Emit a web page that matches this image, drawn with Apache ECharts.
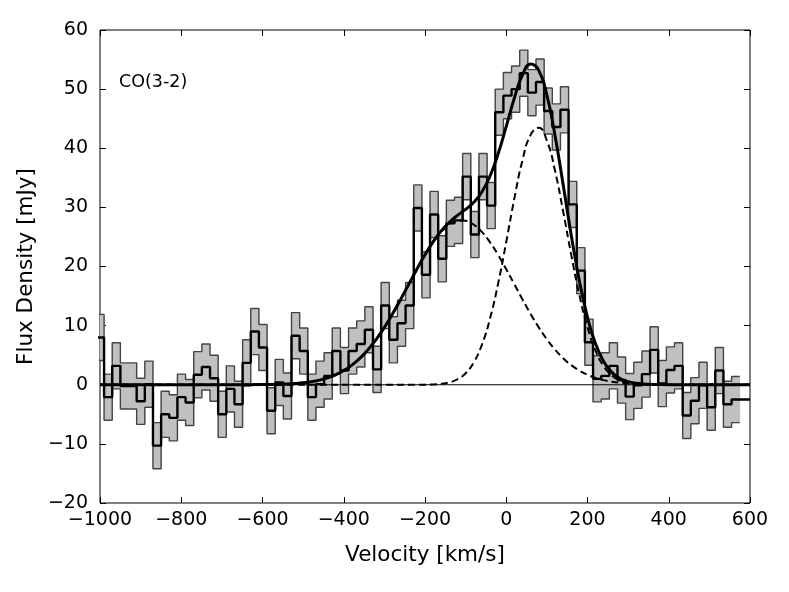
<!DOCTYPE html>
<html><head><meta charset="utf-8">
<script src="https://cdn.jsdelivr.net/npm/echarts@6/dist/echarts.min.js"></script>
<style>html,body{margin:0;padding:0;background:#fff}#c{width:789px;height:592px}</style>
</head><body><div id="c"></div><script>
// Channel centres (km/s)
const velocity = [-1000.0,-979.9,-959.9,-939.8,-919.8,-899.7,-879.6,-859.6,-839.5,-819.5,
 -799.4,-779.3,-759.3,-739.2,-719.2,-699.1,-679.0,-659.0,-638.9,-618.9,
 -598.8,-578.7,-558.7,-538.6,-518.6,-498.5,-478.4,-458.4,-438.3,-418.3,
 -398.2,-378.1,-358.1,-338.0,-318.0,-297.9,-277.8,-257.8,-237.7,-217.7,
 -197.6,-177.5,-157.5,-137.4,-117.4,-97.3,-77.2,-57.2,-37.1,-17.1,
 3.0,23.1,43.1,63.2,83.2,103.3,123.4,143.4,163.5,183.5,
 203.6,223.7,243.7,263.8,283.8,303.9,324.0,344.0,364.1,384.1,
 404.2,424.3,444.3,464.4,484.4,504.5,524.6,544.6,564.7];
// Flux density per channel (mJy)
const flux = [8.0,-2.1,3.2,-0.2,-0.2,-2.8,0.1,-10.3,-5.0,-5.6,
 -2.1,-3.0,1.7,3.0,1.1,-5.0,-0.7,-3.3,3.7,9.0,
 6.3,-4.4,0.4,-1.9,8.3,5.7,-2.1,0.1,1.5,5.7,
 2.4,5.7,6.9,9.3,2.6,13.4,7.6,10.4,13.4,29.9,
 18.6,28.8,21.3,27.3,27.8,35.2,25.4,35.2,30.3,46.1,
 48.9,50.0,52.7,49.4,51.2,46.3,43.6,46.5,30.5,19.3,
 7.2,1.0,1.5,3.2,0.8,-2.0,-0.1,1.8,5.9,0.2,
 2.5,3.2,-5.2,-2.7,-0.1,-3.8,2.4,-3.3,-2.5];
// 1-sigma uncertainty per channel (mJy)
const fluxError = [3.9,3.9,3.9,3.9,3.9,3.9,3.9,3.9,3.9,3.9,
 3.9,3.9,3.9,3.9,3.9,3.9,3.9,3.9,3.9,3.9,
 3.9,3.9,3.9,3.9,3.9,3.9,3.9,3.9,3.9,3.9,
 3.9,3.9,3.9,3.9,3.9,3.9,3.9,3.9,3.9,3.9,
 3.9,3.9,3.9,3.9,3.9,3.9,3.9,3.9,3.9,3.9,
 3.9,3.9,3.9,3.9,3.9,3.9,3.9,3.9,3.9,3.9,
 3.9,3.9,3.9,3.9,3.9,3.9,3.9,3.9,3.9,3.9,
 3.9,3.9,3.9,3.9,3.9,3.9,3.9,3.9,3.9];
// Fit curves sampled in velocity (km/s)
const fitVelocity = [-1000,-800,-700,
 -600,-580,-560,-540,-520,-500,-480,-460,-440,-420,-400,-380,-360,-340,-320,-300,
 -280,-260,-240,-220,-200,-180,-160,-140,-120,-100,-80,-60,-40,-20,0,20,40,60,80,100,
 120,140,160,180,200,220,240,260,280,300,320,340,360,380,400,500,600];
const fitComponent1 = [0,0,0,
 0.025,0.045,0.076,0.127,0.207,0.33,0.515,0.78,1.16,1.69,2.40,3.32,4.50,5.95,7.69,9.71,
 11.98,14.43,16.99,19.54,21.96,24.10,25.85,27.08,27.72,27.72,27.08,25.85,24.10,21.96,19.54,16.99,14.43,11.98,9.71,7.69,
 5.95,4.50,3.32,2.40,1.69,1.16,0.78,0.515,0.33,0.207,0.127,0.076,0.045,0.025,0.014,0,0];
const fitComponent2 = [0,0,0,
 0,0,0,0,0,0,0,0,0,0,0,0,0,0,0,0,
 0,0,0,0.007,0.021,0.062,0.166,0.41,0.93,1.95,3.77,6.76,11.19,17.11,24.16,31.52,37.98,42.27,43.46,41.28,
 36.21,29.35,21.97,15.19,9.70,5.72,3.12,1.57,0.73,0.31,0.12,0.046,0.015,0.005,0,0,0];
const fitTotal = [0,0,0,
 0.025,0.045,0.076,0.127,0.207,0.33,0.515,0.78,1.16,1.69,2.40,3.32,4.50,5.95,7.69,9.71,
 11.98,14.43,16.99,19.55,21.98,24.16,26.02,27.49,28.65,29.67,30.85,32.61,35.29,39.07,43.70,48.51,52.41,54.25,53.17,48.97,
 42.16,33.85,25.29,17.59,11.39,6.88,3.90,2.09,1.06,0.52,0.25,0.12,0.06,0.03,0.014,0,0];
const xRange = {min:-1000, max:600, interval:200};
const yRange = {min:-20, max:60, interval:10};

const FONT = 'DejaVu Sans';
const n = velocity.length;
const edges = [];
for (let i = 0; i <= n; i++) {
  if (i === 0) edges.push(velocity[0] - (velocity[1] - velocity[0]) / 2);
  else if (i === n) edges.push(velocity[n-1] + (velocity[n-1] - velocity[n-2]) / 2);
  else edges.push((velocity[i-1] + velocity[i]) / 2);
}
function stepData(vals) {
  const d = vals.map((v, i) => [edges[i], v]);
  d.push([edges[n], vals[n-1]]);
  return d;
}
const lower = flux.map((f, i) => f - fluxError[i]);
const upper = flux.map((f, i) => f + fluxError[i]);
const bandCells = flux.map((f, i) => [edges[i], edges[i+1], lower[i], upper[i]]);
const fluxLine = stepData(flux);
fluxLine.push([xRange.max, flux[n-1]]);
const zip = (xs, ys) => xs.map((x, i) => [x, ys[i]]);
const minus = v => String(v).replace('-', '\u2212');

const chart = echarts.init(document.getElementById('c'), null, {renderer: 'canvas'});
const tickStyle = {inside: true, length: 6, lineStyle: {color: '#000', width: 1}};
const noLine = {show: false, onZero: false};
function renderBand(params, api) {
  const p0 = api.coord([api.value(0), api.value(3)]);
  const p1 = api.coord([api.value(1), api.value(2)]);
  const cs = params.coordSys;
  const shape = echarts.graphic.clipRectByRect(
    {x: p0[0] - 0.4, y: p0[1], width: p1[0] - p0[0] + 0.8, height: p1[1] - p0[1]},
    {x: cs.x, y: cs.y, width: cs.width, height: cs.height});
  return shape && {type: 'rect', shape: shape, style: {fill: '#c0c0c0', stroke: null}};
}
chart.setOption({
  animation: false,
  backgroundColor: '#fff',
  grid: {left: 100, right: 39, top: 30, bottom: 89, show: true, borderColor: '#000', borderWidth: 1, backgroundColor: 'transparent'},
  xAxis: [
    {type: 'value', position: 'bottom', min: xRange.min, max: xRange.max, interval: xRange.interval,
     axisLine: noLine, axisTick: tickStyle, splitLine: {show: false},
     axisLabel: {fontSize: 19, color: '#000', fontFamily: FONT, margin: 8, formatter: minus},
     name: 'Velocity [km/s]', nameLocation: 'middle', nameGap: 41,
     nameTextStyle: {fontSize: 21.5, color: '#000', fontFamily: FONT}},
    {type: 'value', position: 'top', min: xRange.min, max: xRange.max, interval: xRange.interval,
     axisLine: noLine, axisTick: tickStyle, splitLine: {show: false}, axisLabel: {show: false}}
  ],
  yAxis: [
    {type: 'value', position: 'left', min: yRange.min, max: yRange.max, interval: yRange.interval,
     axisLine: noLine, axisTick: tickStyle, splitLine: {show: false},
     axisLabel: {fontSize: 19, color: '#000', fontFamily: FONT, margin: 12, formatter: minus},
     name: 'Flux Density [mJy]', nameLocation: 'middle', nameGap: 53,
     nameTextStyle: {fontSize: 21.5, color: '#000', fontFamily: FONT}},
    {type: 'value', position: 'right', min: yRange.min, max: yRange.max, interval: yRange.interval,
     axisLine: noLine, axisTick: tickStyle, splitLine: {show: false}, axisLabel: {show: false}}
  ],
  graphic: [{type: 'text', left: 119, top: 73, silent: true,
    style: {text: 'CO(3-2)', fontSize: 17.5, fontFamily: FONT, fill: '#000'}}],
  series: [
    {name: 'band', type: 'custom', data: bandCells, renderItem: renderBand, silent: true, z: 1,
     encode: {x: [0, 1], y: [2, 3]}},
    {name: 'upper', type: 'line', step: 'end', data: stepData(upper),
     showSymbol: false, silent: true, lineStyle: {color: '#444', width: 1.4}, z: 2},
    {name: 'lower', type: 'line', step: 'end', data: stepData(lower),
     showSymbol: false, silent: true, lineStyle: {color: '#444', width: 1.4}, z: 2},
    {name: 'zero', type: 'line', data: [[xRange.min, 0], [xRange.max, 0]], showSymbol: false, silent: true,
     lineStyle: {color: '#000', width: 1}, z: 3},
    {name: 'flux', type: 'line', step: 'end', data: fluxLine, showSymbol: false, silent: true,
     lineStyle: {color: '#000', width: 2.4}, z: 4},
    {name: 'comp1', type: 'line', data: zip(fitVelocity, fitComponent1), smooth: 0.5,
     showSymbol: false, silent: true, lineStyle: {color: '#000', width: 2, type: [7, 4]}, z: 5},
    {name: 'comp2', type: 'line', data: zip(fitVelocity, fitComponent2), smooth: 0.5,
     showSymbol: false, silent: true, lineStyle: {color: '#000', width: 2, type: [7, 4]}, z: 5},
    {name: 'total', type: 'line', data: zip(fitVelocity, fitTotal), smooth: 0.5,
     showSymbol: false, silent: true, lineStyle: {color: '#000', width: 3}, z: 6}
  ]
});
</script></body></html>
